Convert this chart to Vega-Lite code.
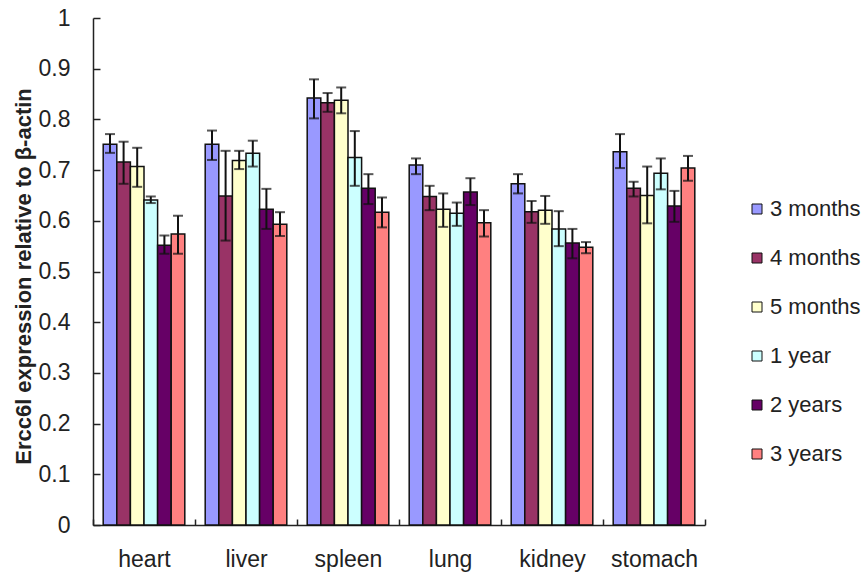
{
  "$schema": "https://vega.github.io/schema/vega-lite/v6.json",
  "width": 612,
  "height": 507,
  "autosize": {"type": "none"},
  "padding": {"left": 93, "top": 18, "right": 158, "bottom": 52},
  "background": "white",
  "config": {
    "font": "Liberation Sans",
    "view": {"stroke": null},
    "axis": {"grid": false, "domainColor": "#222", "domainWidth": 1.5, "tickColor": "#222", "tickWidth": 1.5, "labelColor": "#222", "labelFont": "Liberation Sans", "labelFontSize": 23, "titleFont": "Liberation Sans"}
  },
  "data": {
    "values": [
      {"organ": "heart", "age": "3 months", "value": 0.751, "lo": 0.734, "hi": 0.771},
      {"organ": "heart", "age": "4 months", "value": 0.716, "lo": 0.673, "hi": 0.756},
      {"organ": "heart", "age": "5 months", "value": 0.707, "lo": 0.667, "hi": 0.744},
      {"organ": "heart", "age": "1 year", "value": 0.641, "lo": 0.635, "hi": 0.648},
      {"organ": "heart", "age": "2 years", "value": 0.552, "lo": 0.535, "hi": 0.571},
      {"organ": "heart", "age": "3 years", "value": 0.574, "lo": 0.535, "hi": 0.61},
      {"organ": "liver", "age": "3 months", "value": 0.751, "lo": 0.72, "hi": 0.778},
      {"organ": "liver", "age": "4 months", "value": 0.649, "lo": 0.561, "hi": 0.738},
      {"organ": "liver", "age": "5 months", "value": 0.719, "lo": 0.702, "hi": 0.738},
      {"organ": "liver", "age": "1 year", "value": 0.733, "lo": 0.707, "hi": 0.758},
      {"organ": "liver", "age": "2 years", "value": 0.623, "lo": 0.584, "hi": 0.663},
      {"organ": "liver", "age": "3 years", "value": 0.593, "lo": 0.57, "hi": 0.617},
      {"organ": "spleen", "age": "3 months", "value": 0.842, "lo": 0.802, "hi": 0.879},
      {"organ": "spleen", "age": "4 months", "value": 0.833, "lo": 0.815, "hi": 0.852},
      {"organ": "spleen", "age": "5 months", "value": 0.838, "lo": 0.812, "hi": 0.863},
      {"organ": "spleen", "age": "1 year", "value": 0.725, "lo": 0.669, "hi": 0.777},
      {"organ": "spleen", "age": "2 years", "value": 0.664, "lo": 0.633, "hi": 0.692},
      {"organ": "spleen", "age": "3 years", "value": 0.617, "lo": 0.587, "hi": 0.646},
      {"organ": "lung", "age": "3 months", "value": 0.71, "lo": 0.692, "hi": 0.723},
      {"organ": "lung", "age": "4 months", "value": 0.648, "lo": 0.621, "hi": 0.669},
      {"organ": "lung", "age": "5 months", "value": 0.623, "lo": 0.588, "hi": 0.654},
      {"organ": "lung", "age": "1 year", "value": 0.615, "lo": 0.59, "hi": 0.636},
      {"organ": "lung", "age": "2 years", "value": 0.657, "lo": 0.631, "hi": 0.684},
      {"organ": "lung", "age": "3 years", "value": 0.596, "lo": 0.569, "hi": 0.621},
      {"organ": "kidney", "age": "3 months", "value": 0.673, "lo": 0.654, "hi": 0.692},
      {"organ": "kidney", "age": "4 months", "value": 0.618, "lo": 0.596, "hi": 0.639},
      {"organ": "kidney", "age": "5 months", "value": 0.621, "lo": 0.594, "hi": 0.649},
      {"organ": "kidney", "age": "1 year", "value": 0.584, "lo": 0.55, "hi": 0.619},
      {"organ": "kidney", "age": "2 years", "value": 0.556, "lo": 0.526, "hi": 0.584},
      {"organ": "kidney", "age": "3 years", "value": 0.548, "lo": 0.536, "hi": 0.558},
      {"organ": "stomach", "age": "3 months", "value": 0.736, "lo": 0.704, "hi": 0.771},
      {"organ": "stomach", "age": "4 months", "value": 0.664, "lo": 0.648, "hi": 0.677},
      {"organ": "stomach", "age": "5 months", "value": 0.65, "lo": 0.595, "hi": 0.707},
      {"organ": "stomach", "age": "1 year", "value": 0.694, "lo": 0.662, "hi": 0.723},
      {"organ": "stomach", "age": "2 years", "value": 0.629, "lo": 0.598, "hi": 0.659},
      {"organ": "stomach", "age": "3 years", "value": 0.704, "lo": 0.679, "hi": 0.728}
    ]
  },
  "encoding": {
    "x": {
      "field": "organ", "type": "nominal",
      "sort": ["heart", "liver", "spleen", "lung", "kidney", "stomach"],
      "scale": {"paddingInner": 0, "paddingOuter": 0},
      "axis": {"title": null, "labelAngle": 0, "tickBand": "extent", "tickSize": -6, "labelPadding": 29}
    },
    "xOffset": {
      "field": "age", "type": "nominal",
      "sort": ["3 months", "4 months", "5 months", "1 year", "2 years", "3 years"],
      "scale": {"paddingInner": 0, "paddingOuter": 0.75}
    }
  },
  "layer": [
    {
      "mark": {"type": "bar", "stroke": "#111", "strokeWidth": 1.5},
      "encoding": {
        "y": {
          "field": "value", "type": "quantitative",
          "scale": {"domain": [0, 1], "nice": false},
          "axis": {
            "values": [0, 0.1, 0.2, 0.3, 0.4, 0.5, 0.6, 0.7, 0.8, 0.9, 1],
            "format": ".1~f", "tickSize": -7, "labelPadding": 30,
            "title": "Ercc6l expression relative to β-actin",
            "titleFontSize": 22, "titleFontWeight": "bold", "titleColor": "#222",
            "titleX": -63, "titleY": 258, "titleAngle": -90, "titleBaseline": "alphabetic", "titleAlign": "center"
          }
        },
        "fill": {
          "field": "age", "type": "nominal",
          "sort": ["3 months", "4 months", "5 months", "1 year", "2 years", "3 years"],
          "scale": {
            "domain": ["3 months", "4 months", "5 months", "1 year", "2 years", "3 years"],
            "range": ["#9999FF", "#993366", "#FFFFCC", "#CCFFFF", "#660066", "#FF8080"]
          },
          "legend": {
            "title": null, "orient": "none", "legendX": 653, "legendY": 180, "padding": 0,
            "symbolType": "square", "symbolSize": 100, "symbolStrokeColor": "#111", "symbolStrokeWidth": 1,
            "labelFontSize": 22, "labelColor": "#222", "labelFont": "Liberation Sans", "labelOffset": 2,
            "labelLimit": 200, "rowPadding": 27
          }
        }
      }
    },
    {
      "mark": {"type": "rule", "color": "#111", "strokeWidth": 2},
      "encoding": {
        "y": {"field": "lo", "type": "quantitative"},
        "y2": {"field": "hi"}
      }
    },
    {
      "mark": {"type": "tick", "color": "#111", "thickness": 2, "size": 10, "orient": "horizontal"},
      "encoding": {"y": {"field": "lo", "type": "quantitative"}}
    },
    {
      "mark": {"type": "tick", "color": "#111", "thickness": 2, "size": 10, "orient": "horizontal"},
      "encoding": {"y": {"field": "hi", "type": "quantitative"}}
    }
  ]
}
